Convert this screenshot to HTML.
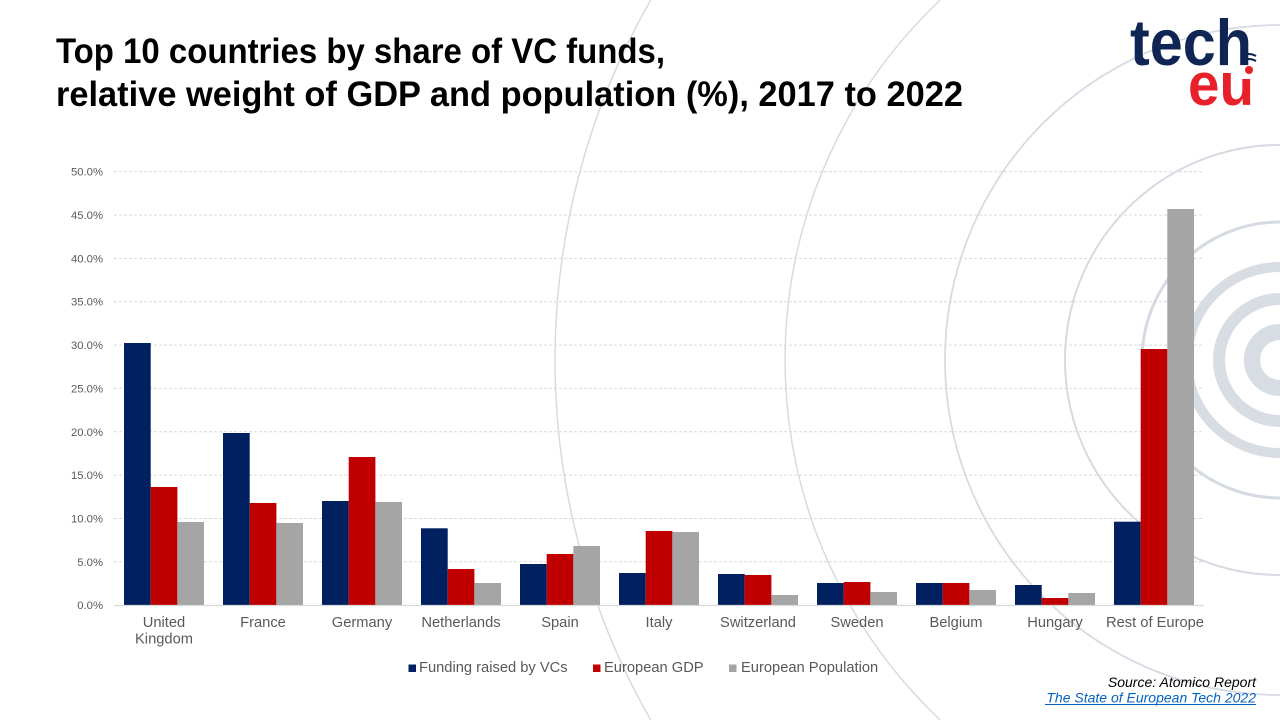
<!DOCTYPE html>
<html><head><meta charset="utf-8"><style>
html,body{margin:0;padding:0;background:#fff;width:1280px;height:720px;overflow:hidden;}
svg{display:block;}
text{font-family:"Liberation Sans",Arial,sans-serif;}
</style></head><body>
<svg width="1280" height="720" viewBox="0 0 1280 720" xmlns="http://www.w3.org/2000/svg">
<rect width="1280" height="720" fill="#fff"/>
<!-- background circles (arcs clipped to frame) -->
<g fill="none" stroke="#d6dbe3">
<path d="M650.7 0 A725 725 0 0 0 650.7 720" stroke-width="1.5"/>
<path d="M940.3 0 A495 495 0 0 0 940.3 720" stroke-width="1.5"/>
<path d="M1280 25 A335 335 0 0 0 1280 695" stroke-width="1.8"/>
<path d="M1280 145 A215 215 0 0 0 1280 575" stroke-width="2"/>
<path d="M1280 222 A138 138 0 0 0 1280 498" stroke-width="3"/>
<path d="M1280 267 A93 93 0 0 0 1280 453" stroke-width="10" stroke="#d8dde4"/>
<path d="M1280 299 A61 61 0 0 0 1280 421" stroke-width="12" stroke="#d8dde4"/>
<path d="M1280 332 A28 28 0 0 0 1280 388" stroke-width="16" stroke="#d8dde4"/>
</g>
<!-- title -->
<text x="56" y="63" font-size="35" font-weight="bold" fill="#000" textLength="609" lengthAdjust="spacingAndGlyphs">Top 10 countries by share of VC funds,</text>
<text x="56" y="106" font-size="35" font-weight="bold" fill="#000" textLength="907" lengthAdjust="spacingAndGlyphs">relative weight of GDP and population (%), 2017 to 2022</text>
<!-- logo -->
<text x="1130" y="65" font-size="65" font-weight="bold" fill="#0f2553" textLength="122" lengthAdjust="spacingAndGlyphs">tech</text>
<text x="1188" y="105" font-size="60" font-weight="bold" fill="#e8202a" textLength="66" lengthAdjust="spacingAndGlyphs">eu</text>
<rect x="1240" y="71" width="16" height="8" fill="#fff"/>
<circle cx="1249" cy="70" r="4" fill="#e8202a"/>
<g fill="none" stroke-width="2">
<path d="M1242 56 q7 -4 14 0" stroke="#0f2553"/>
<path d="M1242 61 q7 -4 14 0" stroke="#0f2553"/>
</g>
<!-- gridlines -->
<g stroke="#d9d9d9" stroke-width="1" stroke-dasharray="3,2">
<line x1="114" y1="171.7" x2="1204" y2="171.7"/>
<line x1="114" y1="215" x2="1204" y2="215"/>
<line x1="114" y1="258.4" x2="1204" y2="258.4"/>
<line x1="114" y1="301.7" x2="1204" y2="301.7"/>
<line x1="114" y1="345.1" x2="1204" y2="345.1"/>
<line x1="114" y1="388.4" x2="1204" y2="388.4"/>
<line x1="114" y1="431.8" x2="1204" y2="431.8"/>
<line x1="114" y1="475.1" x2="1204" y2="475.1"/>
<line x1="114" y1="518.5" x2="1204" y2="518.5"/>
<line x1="114" y1="561.8" x2="1204" y2="561.8"/>
</g>
<!-- y labels -->
<g font-size="11.3" fill="#595959" text-anchor="end">
<text x="103" y="175.7">50.0%</text>
<text x="103" y="219">45.0%</text>
<text x="103" y="262.4">40.0%</text>
<text x="103" y="305.7">35.0%</text>
<text x="103" y="349.1">30.0%</text>
<text x="103" y="392.4">25.0%</text>
<text x="103" y="435.8">20.0%</text>
<text x="103" y="479.1">15.0%</text>
<text x="103" y="522.5">10.0%</text>
<text x="103" y="565.8">5.0%</text>
<text x="103" y="609.2">0.0%</text>
</g>
<!-- bars -->
<g fill="#002060">
<rect x="124" y="343" width="26.7" height="262.2"/>
<rect x="223" y="433" width="26.7" height="172.2"/>
<rect x="322" y="501" width="26.7" height="104.2"/>
<rect x="421" y="528.3" width="26.7" height="76.9"/>
<rect x="520" y="564" width="26.7" height="41.2"/>
<rect x="619" y="573" width="26.7" height="32.2"/>
<rect x="718" y="574" width="26.7" height="31.2"/>
<rect x="817" y="583" width="26.7" height="22.2"/>
<rect x="916" y="583" width="26.7" height="22.2"/>
<rect x="1015" y="585" width="26.7" height="20.2"/>
<rect x="1114" y="521.7" width="26.7" height="83.5"/>
</g>
<g fill="#c00000">
<rect x="150.7" y="487" width="26.7" height="118.2"/>
<rect x="249.7" y="503" width="26.7" height="102.2"/>
<rect x="348.7" y="457" width="26.7" height="148.2"/>
<rect x="447.7" y="569" width="26.7" height="36.2"/>
<rect x="546.7" y="554" width="26.7" height="51.2"/>
<rect x="645.7" y="531" width="26.7" height="74.2"/>
<rect x="744.7" y="575" width="26.7" height="30.2"/>
<rect x="843.7" y="582" width="26.7" height="23.2"/>
<rect x="942.7" y="583" width="26.7" height="22.2"/>
<rect x="1041.7" y="598" width="26.7" height="7.2"/>
<rect x="1140.7" y="349" width="26.7" height="256.2"/>
</g>
<g fill="#a5a5a5">
<rect x="177.3" y="522" width="26.7" height="83.2"/>
<rect x="276.3" y="523" width="26.7" height="82.2"/>
<rect x="375.3" y="502" width="26.7" height="103.2"/>
<rect x="474.3" y="583" width="26.7" height="22.2"/>
<rect x="573.3" y="546" width="26.7" height="59.2"/>
<rect x="672.3" y="532" width="26.7" height="73.2"/>
<rect x="771.3" y="595" width="26.7" height="10.2"/>
<rect x="870.3" y="592" width="26.7" height="13.2"/>
<rect x="969.3" y="590" width="26.7" height="15.2"/>
<rect x="1068.3" y="593" width="26.7" height="12.2"/>
<rect x="1167.3" y="209" width="26.7" height="396.2"/>
</g>
<line x1="114" y1="605.5" x2="1204" y2="605.5" stroke="#d9d9d9" stroke-width="1.2"/>
<!-- category labels -->
<g font-size="14.7" fill="#595959" text-anchor="middle">
<text x="164" y="627">United</text>
<text x="164" y="643.5">Kingdom</text>
<text x="263" y="627">France</text>
<text x="362" y="627">Germany</text>
<text x="461" y="627">Netherlands</text>
<text x="560" y="627">Spain</text>
<text x="659" y="627">Italy</text>
<text x="758" y="627">Switzerland</text>
<text x="857" y="627">Sweden</text>
<text x="956" y="627">Belgium</text>
<text x="1055" y="627">Hungary</text>
<text x="1155" y="627">Rest of Europe</text>
</g>
<!-- legend -->
<rect x="408.5" y="664.5" width="7.5" height="7.5" fill="#002060"/>
<text x="419" y="672" font-size="14.7" fill="#595959">Funding raised by VCs</text>
<rect x="593" y="664.5" width="7.5" height="7.5" fill="#c00000"/>
<text x="604" y="672" font-size="14.7" fill="#595959">European GDP</text>
<rect x="729" y="664.5" width="7.5" height="7.5" fill="#a5a5a5"/>
<text x="741" y="672" font-size="14.7" fill="#595959">European Population</text>
<!-- source -->
<text x="1256" y="687" font-size="14" font-style="italic" fill="#000" text-anchor="end">Source: Atomico Report</text>
<text x="1256" y="702.5" font-size="14" font-style="italic" fill="#0563c1" text-anchor="end">The State of European Tech 2022</text>
<line x1="1045" y1="704.5" x2="1256" y2="704.5" stroke="#0563c1" stroke-width="1"/>
</svg>
</body></html>
